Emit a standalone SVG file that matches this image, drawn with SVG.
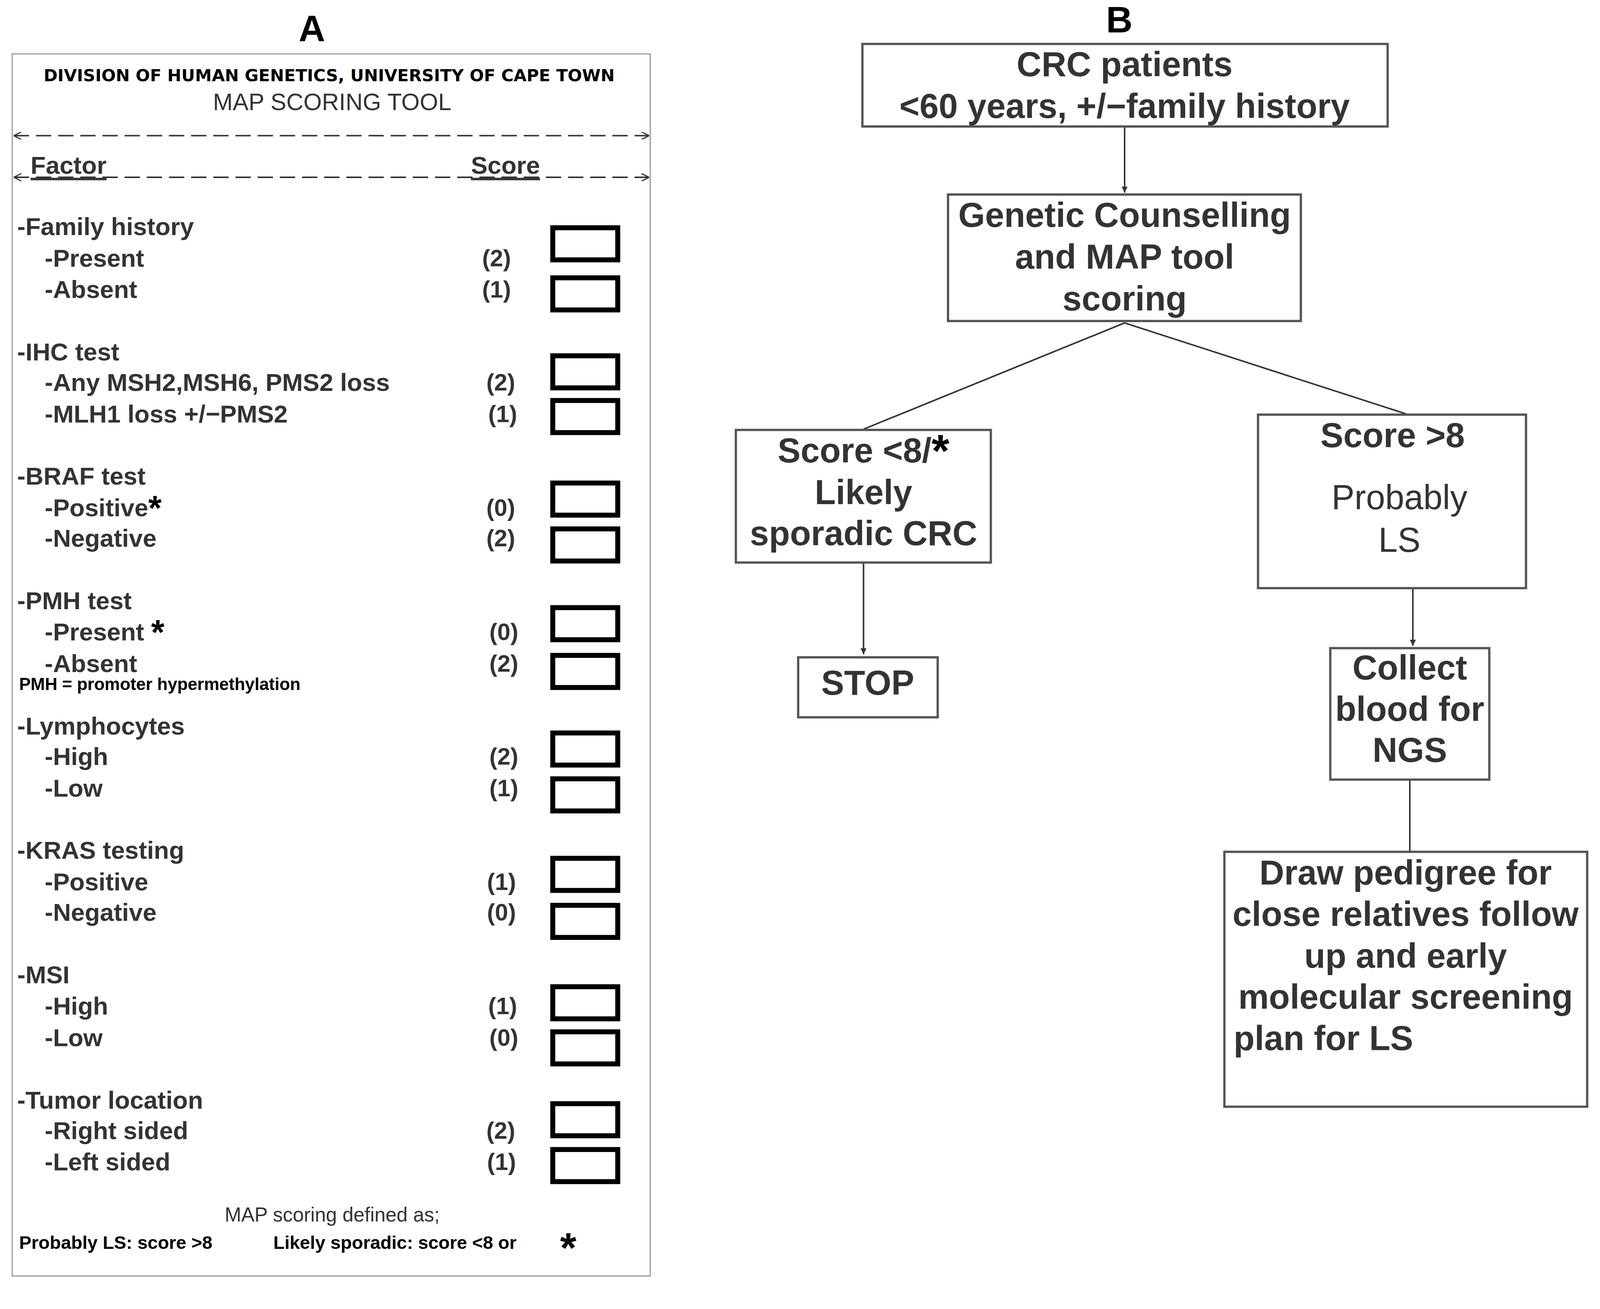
<svg xmlns="http://www.w3.org/2000/svg" width="4160" height="3352" viewBox="0 0 4160 3352">
<defs>
<marker id="ah" viewBox="0 0 10 10" refX="10" refY="5" markerWidth="5" markerHeight="5" orient="auto-start-reverse"><path d="M0,0 L10,5 L0,10" fill="none" stroke="#333" stroke-width="1.5"/></marker>
<marker id="af" viewBox="0 0 10 10" refX="10" refY="5" markerWidth="4" markerHeight="4" orient="auto"><path d="M0,0 L10,5 L0,10 z" fill="#333"/></marker>
<style>
text{font-family:"Liberation Sans",Arial,sans-serif;fill:#333;dominant-baseline:central}
.it{font-size:65px;font-weight:bold}
.sc{font-size:62px;font-weight:bold;text-anchor:middle}
.bx{fill:none;stroke:#000;stroke-width:13}
.nb{fill:#fff;stroke:#555;stroke-width:6}
.nt{font-size:90px;font-weight:bold;text-anchor:middle}
.ln{stroke:#333;stroke-width:4;fill:none}
</style>
</defs>
<rect width="4160" height="3352" fill="#fff"/>
<g transform="scale(0.9786)">
<g id="panelA">
<text x="816" y="75" style="font-size:96px;font-weight:bold;text-anchor:middle;fill:#000">A</text>
<rect x="32" y="141" width="1669" height="3198" fill="none" stroke="#999" stroke-width="3"/>
<text x="861" y="197" style="font-size:44px;font-weight:900;text-anchor:middle;fill:#000;font-family:'DejaVu Sans',sans-serif">DIVISION OF HUMAN GENETICS, UNIVERSITY OF CAPE TOWN</text>
<text x="869" y="267" style="font-size:62px;text-anchor:middle">MAP  SCORING TOOL</text>
<line x1="36" y1="355" x2="1698" y2="355" class="ln" stroke-dasharray="40,18" marker-start="url(#ah)" marker-end="url(#ah)"/>
<line x1="36" y1="464" x2="1698" y2="464" class="ln" stroke-dasharray="40,18" marker-start="url(#ah)" marker-end="url(#ah)"/>
<text x="80" y="432" class="it" text-decoration="underline">Factor</text>
<text x="1232" y="432" class="it" text-decoration="underline">Score</text>
<text x="45" y="592" class="it">-Family history</text>
<text x="117" y="675" class="it">-Present</text><text x="1299" y="675" class="sc">(2)</text>
<text x="117" y="757" class="it">-Absent</text><text x="1299" y="757" class="sc">(1)</text>
<text x="45" y="920" class="it">-IHC test</text>
<text x="117" y="1000" class="it">-Any MSH2,MSH6, PMS2 loss</text><text x="1310" y="1000" class="sc">(2)</text>
<text x="117" y="1083" class="it">-MLH1 loss +/−PMS2</text><text x="1315" y="1083" class="sc">(1)</text>
<text x="45" y="1245" class="it">-BRAF test</text>
<text x="117" y="1328" class="it">-Positive<tspan style="font-size:90px;fill:#000">*</tspan></text><text x="1310" y="1328" class="sc">(0)</text>
<text x="117" y="1408" class="it">-Negative</text><text x="1310" y="1408" class="sc">(2)</text>
<text x="45" y="1571" class="it">-PMH test</text>
<text x="117" y="1653" class="it">-Present <tspan style="font-size:90px;fill:#000">*</tspan></text><text x="1318" y="1653" class="sc">(0)</text>
<text x="117" y="1736" class="it">-Absent</text><text x="1318" y="1736" class="sc">(2)</text>
<text x="50" y="1790" style="font-size:45px;font-weight:bold;fill:#000">PMH = promoter hypermethylation</text>
<text x="45" y="1899" class="it">-Lymphocytes</text>
<text x="117" y="1979" class="it">-High</text><text x="1318" y="1979" class="sc">(2)</text>
<text x="117" y="2062" class="it">-Low</text><text x="1318" y="2062" class="sc">(1)</text>
<text x="45" y="2224" class="it">-KRAS testing</text>
<text x="117" y="2307" class="it">-Positive</text><text x="1312" y="2307" class="sc">(1)</text>
<text x="117" y="2387" class="it">-Negative</text><text x="1312" y="2387" class="sc">(0)</text>
<text x="45" y="2550" class="it">-MSI</text>
<text x="117" y="2632" class="it">-High</text><text x="1315" y="2632" class="sc">(1)</text>
<text x="117" y="2715" class="it">-Low</text><text x="1318" y="2715" class="sc">(0)</text>
<text x="45" y="2878" class="it">-Tumor location</text>
<text x="117" y="2958" class="it">-Right sided</text><text x="1310" y="2958" class="sc">(2)</text>
<text x="117" y="3040" class="it">-Left sided</text><text x="1312" y="3040" class="sc">(1)</text>
<text x="869" y="3179" style="font-size:52px;text-anchor:middle">MAP scoring defined as;</text>
<text x="50" y="3251" style="font-size:48px;font-weight:bold;fill:#000">Probably LS: score &gt;8</text>
<text x="715" y="3251" style="font-size:48px;font-weight:bold;fill:#000">Likely sporadic: score &lt;8 or</text>
<text x="1465" y="3265" style="font-size:110px;font-weight:bold;fill:#000">*</text>
<rect x="1446" y="596" width="170" height="84" class="bx"/>
<rect x="1446" y="727" width="170" height="84" class="bx"/>
<rect x="1446" y="931" width="170" height="84" class="bx"/>
<rect x="1446" y="1048" width="170" height="84" class="bx"/>
<rect x="1446" y="1264" width="170" height="84" class="bx"/>
<rect x="1446" y="1384" width="170" height="84" class="bx"/>
<rect x="1446" y="1590" width="170" height="84" class="bx"/>
<rect x="1446" y="1715" width="170" height="84" class="bx"/>
<rect x="1446" y="1918" width="170" height="84" class="bx"/>
<rect x="1446" y="2038" width="170" height="84" class="bx"/>
<rect x="1446" y="2246" width="170" height="84" class="bx"/>
<rect x="1446" y="2369" width="170" height="84" class="bx"/>
<rect x="1446" y="2582" width="170" height="84" class="bx"/>
<rect x="1446" y="2700" width="170" height="84" class="bx"/>
<rect x="1446" y="2888" width="170" height="84" class="bx"/>
<rect x="1446" y="3008" width="170" height="84" class="bx"/>
</g>
<text x="2928" y="52" style="font-size:96px;font-weight:bold;text-anchor:middle;fill:#000">B</text>
<g id="connectors">
<line x1="2942" y1="331" x2="2942" y2="504" class="ln" marker-end="url(#af)"/>
<line x1="2942" y1="845" x2="2259" y2="1123" class="ln"/>
<line x1="2942" y1="845" x2="3678" y2="1083" class="ln"/>
<line x1="2259" y1="1472" x2="2259" y2="1712" class="ln" marker-end="url(#af)"/>
<line x1="3696" y1="1539" x2="3696" y2="1690" class="ln" marker-end="url(#af)"/>
<line x1="3688" y1="2040" x2="3688" y2="2229" class="ln"/>
</g>
<g id="n1"><rect x="2256" y="115" width="1374" height="216" class="nb"/>
<text x="2942" y="168" class="nt">CRC patients</text><text x="2942" y="277" class="nt">&lt;60 years, +/−family history</text></g>
<g id="n2"><rect x="2480" y="509" width="923" height="331" class="nb"/>
<text x="2942" y="563" class="nt">Genetic Counselling</text><text x="2942" y="672" class="nt">and MAP tool</text><text x="2942" y="781" class="nt">scoring</text></g>
<g id="n3"><rect x="1925" y="1125" width="667" height="347" class="nb"/>
<text x="2259" y="1179" class="nt">Score &lt;8/<tspan style="fill:#000;font-size:120px">*</tspan></text><text x="2259" y="1288" class="nt">Likely</text><text x="2259" y="1395" class="nt">sporadic CRC</text></g>
<g id="n4"><rect x="3291" y="1085" width="701" height="454" class="nb"/>
<text x="3643" y="1139" class="nt">Score &gt;8</text><text x="3661" y="1301" class="nt" style="font-weight:normal">Probably</text><text x="3661" y="1413" class="nt" style="font-weight:normal">LS</text></g>
<g id="n5"><rect x="2088" y="1720" width="365" height="157" class="nb"/>
<text x="2270" y="1787" class="nt">STOP</text></g>
<g id="n6"><rect x="3480" y="1696" width="416" height="344" class="nb"/>
<text x="3688" y="1747" class="nt">Collect</text><text x="3688" y="1855" class="nt">blood for</text><text x="3688" y="1963" class="nt">NGS</text></g>
<g id="n7"><rect x="3203" y="2229" width="949" height="667" class="nb"/>
<text x="3677" y="2283" class="nt">Draw pedigree for</text><text x="3677" y="2392" class="nt">close relatives follow</text><text x="3677" y="2501" class="nt">up and early</text><text x="3677" y="2608" class="nt">molecular screening</text><text x="3227" y="2717" class="nt" style="text-anchor:start">plan for LS</text></g>
</g>
</svg>
